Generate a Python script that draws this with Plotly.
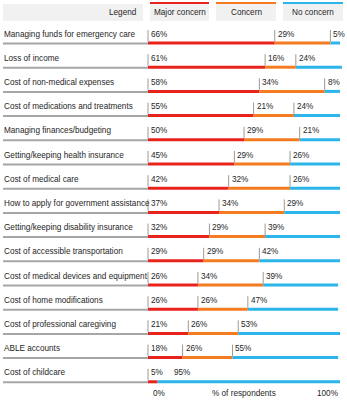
import plotly.graph_objects as go

categories = [
    "Managing funds for emergency care",
    "Loss of income",
    "Cost of non-medical expenses",
    "Cost of medications and treatments",
    "Managing finances/budgeting",
    "Getting/keeping health insurance",
    "Cost of medical care",
    "How to apply for government assistance",
    "Getting/keeping disability insurance",
    "Cost of accessible transportation",
    "Cost of medical devices and equipment",
    "Cost of home modifications",
    "Cost of professional caregiving",
    "ABLE accounts",
    "Cost of childcare",
]
major = [66, 61, 58, 55, 50, 45, 42, 37, 32, 29, 26, 26, 21, 18, 5]
concern = [29, 16, 34, 21, 29, 29, 32, 34, 29, 29, 34, 26, 26, 26, 0]
no_concern = [5, 24, 8, 24, 21, 26, 26, 29, 39, 42, 39, 47, 53, 55, 95]

series_names = ["Major concern", "Concern", "No concern"]
series_vals = [major, concern, no_concern]
colors = ["#e8231c", "#f47b20", "#2bb5e8"]

W, H = 347, 400
X0PX, X100PX = 148, 340          # pixel positions of 0% and 100%
ROW0PX, ROWSTEP = 43, 24.2        # pixel y of first bar, row pitch
ppu = (X100PX - X0PX) / 100.0
xr = [-X0PX / ppu, (W - X0PX) / ppu]
n = len(categories)
yr = [(H - ROW0PX) / ROWSTEP, -ROW0PX / ROWSTEP]

FONT = "Liberation Sans, Arial, sans-serif"
FS = 8.2
TXT = "#262626"
GRAY = "#a6a6a6"

fig = go.Figure()
ys = list(range(n))

# stacked segments
bases = [0.0] * n
seg_starts = []
for name, vals, col in zip(series_names, series_vals, colors):
    fig.add_trace(go.Bar(
        orientation="h", y=ys, x=vals, base=list(bases), name=name,
        marker=dict(color=col, line=dict(width=0)),
        width=3 / ROWSTEP, showlegend=False, hoverinfo="skip",
    ))
    seg_starts.append(list(bases))
    bases = [b + v for b, v in zip(bases, vals)]

shapes = []
annotations = []

def char_w(s):
    w = 0
    for c in s:
        w += 0.89 if c == "%" else 0.556
    return w * FS

for i, cat in enumerate(categories):
    # gray underline below label
    shapes.append(dict(type="line", xref="x", yref="y", x0=xr[0] + 3 / ppu, x1=0,
                       y0=i + 0.5 / ROWSTEP, y1=i + 0.5 / ROWSTEP,
                       line=dict(color=GRAY, width=2)))
    annotations.append(dict(xref="x", yref="y", x=xr[0] + 3 / ppu, y=i, yshift=9,
                            text=cat, showarrow=False, xanchor="left", yanchor="middle",
                            xshift=-1,
                            font=dict(family=FONT, size=FS, color=TXT)))
    prev_end = -1e9
    for s in range(3):
        v = series_vals[s][i]
        if v <= 0:
            continue
        start = seg_starts[s][i]
        spx = X0PX + start * ppu
        lx = max(spx + 1, prev_end + 9)
        if spx >= prev_end:
            shapes.append(dict(type="line", xref="x", yref="y", x0=start, x1=start,
                               y0=i - 1.5 / ROWSTEP, y1=i - 13 / ROWSTEP,
                               line=dict(color="#9a9a9a", width=1)))
        label = f"{v}%"
        annotations.append(dict(xref="x", yref="y", x=(lx - X0PX) / ppu, y=i, yshift=9,
                                text=label, showarrow=False, xanchor="left", yanchor="middle",
                                font=dict(family=FONT, size=FS, color=TXT)))
        prev_end = lx + char_w(label) + 2

# legend header
def py(p):
    return 1 - p / H

def pxp(p):
    return p / W

legend_boxes = [(3, 143), (150, 209), (216, 276), (283, 343)]
for k, (a, b) in enumerate(legend_boxes):
    shapes.append(dict(type="rect", xref="paper", yref="paper", x0=pxp(a), x1=pxp(b),
                       y0=py(21), y1=py(4), fillcolor="#f1f1f1", line=dict(width=0),
                       layer="below"))
    if k == 0:
        annotations.append(dict(xref="paper", yref="paper", x=pxp(b - 4), y=py(12.5),
                                text="Legend", showarrow=False, xanchor="right",
                                yanchor="middle",
                                font=dict(family=FONT, size=FS, color=TXT)))
    else:
        shapes.append(dict(type="rect", xref="paper", yref="paper", x0=pxp(a), x1=pxp(b),
                           y0=py(4), y1=py(2), fillcolor=colors[k - 1], line=dict(width=0)))
        annotations.append(dict(xref="paper", yref="paper", x=pxp((a + b) / 2), y=py(12.5),
                                text=series_names[k - 1], showarrow=False, xanchor="center",
                                yanchor="middle",
                                font=dict(family=FONT, size=FS, color=TXT)))

# bottom axis labels
annotations += [
    dict(xref="x", yref="paper", x=0, xshift=3, y=py(393), text="0%", showarrow=False,
         xanchor="left", yanchor="middle", font=dict(family=FONT, size=FS, color=TXT)),
    dict(xref="x", yref="paper", x=50, y=py(393), text="% of respondents", showarrow=False,
         xanchor="center", yanchor="middle", font=dict(family=FONT, size=FS, color=TXT)),
    dict(xref="x", yref="paper", x=100, y=py(393), text="100%", showarrow=False,
         xanchor="right", yanchor="middle", font=dict(family=FONT, size=FS, color=TXT)),
]

fig.update_layout(
    width=W, height=H, margin=dict(l=0, r=0, t=0, b=0),
    paper_bgcolor="white", plot_bgcolor="white",
    barmode="overlay",
    xaxis=dict(range=xr, visible=False, fixedrange=True),
    yaxis=dict(range=yr, visible=False, fixedrange=True),
    shapes=shapes, annotations=annotations,
    font=dict(family=FONT, size=FS, color=TXT),
)

fig.write_html("out.html", config={"displayModeBar": False},
               post_script="document.body.style.margin='0px';document.body.style.overflow='hidden';")
